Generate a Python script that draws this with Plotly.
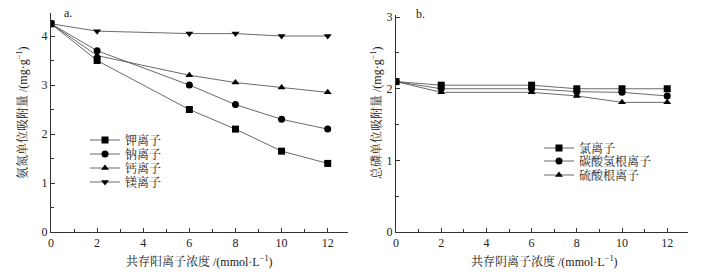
import plotly.graph_objects as go

x_conc = [0, 2, 6, 8, 10, 12]

# panel a: cations
cation_names = ["钾离子", "钠离子", "钙离子", "镁离子"]
k_vals = [4.25, 3.50, 2.50, 2.10, 1.65, 1.40]
na_vals = [4.25, 3.70, 3.00, 2.60, 2.30, 2.10]
ca_vals = [4.25, 3.60, 3.20, 3.05, 2.95, 2.85]
mg_vals = [4.25, 4.10, 4.05, 4.05, 4.00, 4.00]

# panel b: anions
anion_names = ["氯离子", "碳酸氢根离子", "硫酸根离子"]
cl_vals = [2.10, 2.05, 2.05, 2.00, 2.00, 2.00]
hco3_vals = [2.10, 2.00, 2.00, 1.96, 1.95, 1.90]
so4_vals = [2.10, 1.95, 1.95, 1.90, 1.81, 1.81]

FONT = "Liberation Serif, Noto Serif CJK SC, Noto Sans CJK SC, serif"
W, H = 720, 274
LINE_C = "#444444"


def px_x(p):
    return p / W


def px_y(p):
    return (H - p) / H


fig = go.Figure()

# one legend per entry so that rows sit as tightly as in the reference
a_series = [k_vals, na_vals, ca_vals, mg_vals]
a_symbols = ["square", "circle", "triangle-up", "triangle-down"]
a_rows = [140, 154, 168, 182]
b_series = [cl_vals, hco3_vals, so4_vals]
b_symbols = ["square", "circle", "triangle-up"]
b_rows = [148, 161, 175]

legend_layout = {}
idx = 0
for name, vals, sym, row in zip(cation_names, a_series, a_symbols, a_rows):
    idx += 1
    lg = "legend" if idx == 1 else f"legend{idx}"
    fig.add_trace(go.Scatter(
        x=x_conc, y=vals, name=name, mode="lines+markers",
        line=dict(color=LINE_C, width=0.8),
        marker=dict(symbol=sym, size=7, color="black"),
        xaxis="x", yaxis="y", legend=lg))
    legend_layout[lg] = dict(x=px_x(85), y=px_y(row), xanchor="left",
                             yanchor="middle", bgcolor="rgba(0,0,0,0)",
                             font=dict(family=FONT, size=12, color="#222222"),
                             itemwidth=30)

for name, vals, sym, row in zip(anion_names, b_series, b_symbols, b_rows):
    idx += 1
    lg = f"legend{idx}"
    fig.add_trace(go.Scatter(
        x=x_conc, y=vals, name=name, mode="lines+markers",
        line=dict(color=LINE_C, width=0.8),
        marker=dict(symbol=sym, size=7, color="black"),
        xaxis="x2", yaxis="y2", legend=lg))
    legend_layout[lg] = dict(x=px_x(539), y=px_y(row), xanchor="left",
                             yanchor="middle", bgcolor="rgba(0,0,0,0)",
                             font=dict(family=FONT, size=12, color="#222222"),
                             itemwidth=30)

axis_common = dict(
    showline=True, linecolor="#333333", linewidth=1,
    ticks="inside", ticklen=4, tickcolor="#333333", tickwidth=1,
    showgrid=False, zeroline=False, automargin=False,
    tickfont=dict(family=FONT, size=12, color="#222222"),
)
minor_x = dict(dtick=1, ticks="inside", ticklen=3, tickcolor="#333333")
minor_y = dict(dtick=0.5, ticks="inside", ticklen=3, tickcolor="#333333")

fig.update_layout(
    width=W, height=H,
    margin=dict(l=0, r=0, t=0, b=0, autoexpand=False),
    paper_bgcolor="white", plot_bgcolor="white",
    font=dict(family=FONT, size=12, color="#222222"),
    xaxis=dict(domain=[px_x(51), px_x(348)], range=[0, 12.88], dtick=2,
               anchor="y", minor=minor_x, **axis_common),
    yaxis=dict(domain=[px_y(232), px_y(13)], range=[0, 4.47], dtick=1,
               anchor="x", minor=minor_y, **axis_common),
    xaxis2=dict(domain=[px_x(396), px_x(688)], range=[0, 12.92], dtick=2,
                anchor="y2", minor=minor_x, **axis_common),
    yaxis2=dict(domain=[px_y(232), px_y(15)], range=[0, 3.03], dtick=1,
                anchor="x2", minor=minor_y, **axis_common),
    showlegend=True,
    **legend_layout,
)

annotations = [
    dict(text="氨氮单位吸附量 /(mg·g<sup>−1</sup>)", x=px_x(22), y=px_y(113),
         textangle=-90),
    dict(text="总磷单位吸附量 /(mg·g<sup>−1</sup>)", x=px_x(376), y=px_y(113),
         textangle=-90),
    dict(text="共存阳离子浓度 /(mmol·L<sup>−1</sup>)", x=px_x(199), y=px_y(261)),
    dict(text="共存阴离子浓度 /(mmol·L<sup>−1</sup>)", x=px_x(544), y=px_y(261)),
    dict(text="a.", x=px_x(68), y=px_y(13)),
    dict(text="b.", x=px_x(420), y=px_y(14)),
]
for a in annotations:
    fig.add_annotation(xref="paper", yref="paper", showarrow=False,
                       xanchor="center", yanchor="middle",
                       font=dict(family=FONT, size=12, color="#222222"), **a)

fig.write_html("out.html",
               config={"displayModeBar": False},
               post_script="document.body.style.margin='0';"
                           "document.body.style.overflow='hidden';")
